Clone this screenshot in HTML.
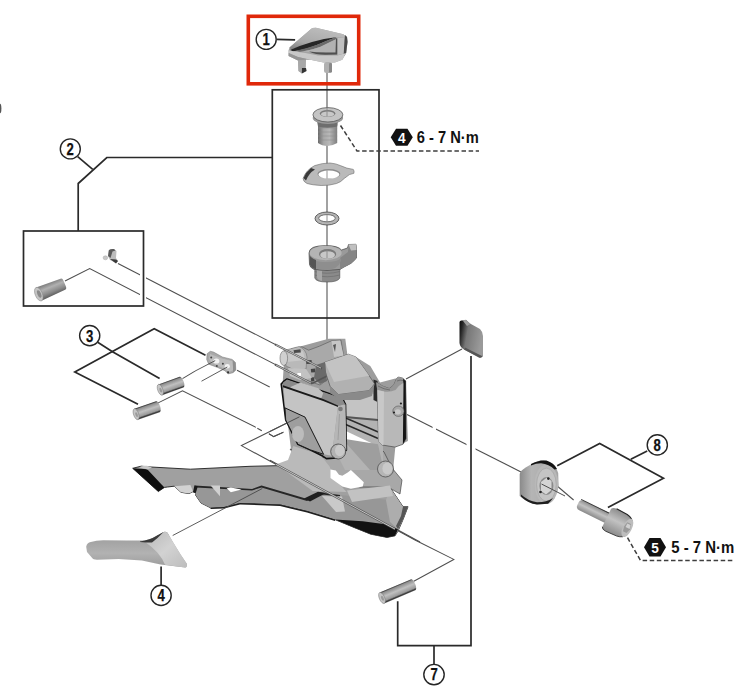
<!DOCTYPE html>
<html><head><meta charset="utf-8">
<style>
html,body{margin:0;padding:0;background:#fff;}
body{width:743px;height:700px;overflow:hidden;position:relative;}
svg{position:absolute;left:0;top:0;}
text{font-family:"Liberation Sans",sans-serif;font-weight:bold;}
</style></head><body>
<svg width="743" height="700" viewBox="0 0 743 700">
<defs>
  <linearGradient id="gPin" x1="0" y1="0" x2="0" y2="1">
    <stop offset="0" stop-color="#9a9a9a"/><stop offset="0.5" stop-color="#c8c8c8"/><stop offset="1" stop-color="#777"/>
  </linearGradient>
</defs>

<ellipse cx="0" cy="108.5" rx="1.4" ry="4.8" fill="#555"/>
<!-- ============ THIN LEADER LINES (behind) ============ -->
<g stroke="#4e4e4e" stroke-width="1.05" fill="none">
  <line x1="327" y1="70" x2="327" y2="360"/>
  <polyline points="65,281 89.7,268.6 313,384"/>
  <polyline points="118,263.5 286,350"/>
  <!-- plate/pin lines -->
  <line x1="182.5" y1="378.6" x2="195" y2="371.1"/>
  
  <line x1="237" y1="370.3" x2="269.7" y2="387"/>
  <polyline points="158.2,402.9 182.5,390.8 255.9,427.4"/>
  <line x1="257.3" y1="428.2" x2="261.8" y2="430.8"/>
  <polyline points="268.9,433.8 273.7,436.6 283.4,432.2"/>
  <polyline points="299.5,416.8 241.4,445.6 415,540 453.8,559.4 413.8,581.2"/>
  <line x1="462" y1="349" x2="406" y2="379"/>
  <line x1="402" y1="412" x2="521" y2="472"/>
  <line x1="556" y1="485" x2="573.6" y2="500"/>
  <line x1="270" y1="460.3" x2="420" y2="542"/>
</g>


<!-- ============ PART 1 (cap) ============ -->
<g id="p1">
  <defs>
    <linearGradient id="gCapTop" x1="0" y1="1" x2="0.6" y2="0">
      <stop offset="0" stop-color="#7a7a7a"/><stop offset="0.35" stop-color="#a8a8a8"/><stop offset="1" stop-color="#bdbdbd"/>
    </linearGradient>
  </defs>
  <path d="M288.6,50.3 L289.5,47.4 L312.2,28.1 L315.9,27.7 L343.3,34.3 L347,37.1 L347.5,41.8 L346.1,53.1 L342.3,59.7 L334.8,62.5 L323.5,62.5 L310.3,59.7 L306,59.5 L305.6,67.2 L306.5,71 L301.8,73.4 L298.5,71 L298,60.6 L288.6,55.9 Z" fill="#a3a3a3"/>
  <path d="M289.5,47.4 L312.2,28.1 L315.9,27.7 L343.3,34.3 L347,37.1 L336,37.5 L324,39.5 L305,45 L291,49.5 Z" fill="url(#gCapTop)"/>
  <path d="M290,50 Q300,45.5 312,42 Q324,38.5 336,37.3 Q326,41 318,44.5 Q306,49.5 293,51.2 Z" fill="#262626"/>
  <path d="M296,50.8 Q308,48 318,44.5 Q326,41 336,37.3 L336.5,39 Q328,43 320,47 Q310,50.5 300,51.8 Z" fill="#6a6a6a"/>
  <path d="M303,51.5 Q314,49 320,47 Q328,43 336.5,39 L336.5,52.5 L326,52.8 Q314,52.5 303,51.5 Z" fill="#b2b2b2"/>
  <path d="M309,51.5 Q316,55 326,54.8 L337.5,54.5 L337.5,38.5 L336,38.5 L335.5,52.5 L326,52.6 Q316,52.6 309,51.5 Z" fill="#505050"/>
  <path d="M337.5,38 L347,37.1 L347.5,41.8 L346.1,53.1 L337.5,55 Z" fill="#c0c0c0"/>
  <path d="M345,35 L347,37.1 L347.5,41.8 L346.1,53.1 L343.5,57 L344.5,40 Z" fill="#4a4a4a"/>
  <path d="M288.6,50.3 L293,51.2 Q305,52.8 318,55.5 L337.5,55.5 L346.1,53.1 L342.3,59.7 L334.8,62.5 L323.5,62.5 L310.3,59.7 L298,57 L288.6,53 Z" fill="#c8c8c8"/>
  <path d="M288.6,53 L298,57 L310.3,59.7 L306,59.5 L298,60.6 L288.6,55.9 Z" fill="#959595"/>
  <path d="M298,60.6 L305.6,60 L305.6,67.2 L302,68 L302,73 L298.5,71 Z" fill="#a8a8a8"/>
  <path d="M302,68 L306,68 L306.5,71 L301.8,73.4 Z" fill="#333"/>
  <rect x="324" y="62" width="8" height="11" rx="2.5" fill="#b0b0b0"/>
  <rect x="329" y="63" width="3" height="9.5" rx="1.2" fill="#888"/>
</g>

<!-- ============ TOP STACK (box) ============ -->
<g id="stack">
  <!-- bolt body -->
  <defs>
    <linearGradient id="gBB" x1="0" y1="0" x2="1" y2="0">
      <stop offset="0" stop-color="#6a6a6a"/><stop offset="0.3" stop-color="#a8a8a8"/><stop offset="0.6" stop-color="#b8b8b8"/><stop offset="1" stop-color="#7e7e7e"/>
    </linearGradient>
  </defs>
  <path d="M318,124 L337.2,124 L337.2,143 Q332,146 327.6,146 Q322,146 318,143 Z" fill="url(#gBB)"/>
  <path d="M318,128 L337.2,128 M318,132 L337.2,132 M318,136 L337.2,136 M318,140 L337.2,140" stroke="#8a8a8a" stroke-width="0.5" fill="none"/>
  <path d="M317,121 L338,121 L337.2,126.5 Q327.6,129 318,126.5 Z" fill="#6e6e6e"/>
  <ellipse cx="327.9" cy="118" rx="15.2" ry="6" fill="#9a9a9a"/>
  <ellipse cx="327.9" cy="114.8" rx="15" ry="7.2" fill="#c4c4c4" stroke="#4a4a4a" stroke-width="0.7"/>
  <ellipse cx="327.6" cy="113.5" rx="7.8" ry="3.5" fill="#7a7a7a"/>
  <ellipse cx="327.6" cy="114.2" rx="6.5" ry="2.6" fill="#c8c8c8"/>
  <line x1="327" y1="108" x2="327" y2="116.5" stroke="#888" stroke-width="0.9"/>
  <!-- washer with tab -->
  <path d="M303.1,178.4 Q306,170 314.7,165.6 Q322,163 330.1,163 Q336,163.5 340.4,165.6 L346.8,168.1 L353.3,169.4 Q354.5,171 353.9,173.3 L349.4,174.6 L344.3,178.4 Q341,182 336.6,183.5 Q329,185.8 321.1,185.5 Q312,185 307,183.5 Q303,181.5 303.1,178.4 Z" fill="#bababa" stroke="#6a6a6a" stroke-width="0.6"/>
  <path d="M303.5,178 Q306,172 311,168 L315,169.5 Q309,173 306,180.5 Z" fill="#3a3a3a"/>
  <ellipse cx="328.9" cy="173.9" rx="11.5" ry="4.8" fill="#8c8c8c"/>
  <ellipse cx="328.9" cy="174.6" rx="10.5" ry="4" fill="#fff"/>
  <line x1="327" y1="170.6" x2="327" y2="178.6" stroke="#888" stroke-width="0.9"/>
  <!-- o-ring -->
  <ellipse cx="327" cy="218.5" rx="12" ry="6.5" fill="#b5b5b5" stroke="#444" stroke-width="0.8"/>
  <ellipse cx="327" cy="218.2" rx="8.3" ry="3.6" fill="#fff" stroke="#555" stroke-width="0.8"/>
  <line x1="327" y1="214.6" x2="327" y2="221.8" stroke="#888" stroke-width="0.9"/>
  <!-- nut with tab -->
  <path d="M314.8,268 L314.8,278 Q316,282 327,282 Q338,282 339.8,278 L339.8,268 Z" fill="#8a8a8a" stroke="#4a4a4a" stroke-width="0.6"/>
  <path d="M314.8,271.5 Q327,275 339.8,271.5 M314.8,275 Q327,278.5 339.8,275" stroke="#6a6a6a" stroke-width="0.6" fill="none"/>
  <path d="M317,270 L322,271 L322,281 Q317,280 317,277 Z" fill="#a8a8a8"/>
  <path d="M309,253 Q309,245.6 325.7,245.6 Q338,245.6 341.5,250 L347.5,248 L348.5,244.5 L356,244.3 L356.5,250 L356.5,258 Q352,264 344,267 L340,269.4 Q327,271.5 314,269.4 Q309.5,267.5 309.5,264 Z" fill="#9a9a9a" stroke="#444" stroke-width="0.7"/>
  <path d="M340,258 L348,252 L348.5,244.5 L356,244.3 L356.5,250 L356.5,258 Q352,264 344,267 L340,269.4 Z" fill="#858585"/>
  <path d="M348.5,244.5 L356,244.3 L356.5,250 L351,250.5 Z" fill="#c0c0c0"/>
  <path d="M309.5,254 Q310,262 325.7,262 Q338,262 341,258 L341,261 Q338,269.5 326,270 Q312,269.5 309.5,264 Z" fill="#8e8e8e"/>
  <path d="M309.5,255 L309.5,264 Q311,268 316,269.5 L316,260 Q311,258 309.5,255 Z" fill="#555"/>
  <ellipse cx="325.7" cy="253" rx="16" ry="7.2" fill="#b4b4b4"/>
  <ellipse cx="327.6" cy="254" rx="8.6" ry="5" fill="#7a7a7a"/>
  <ellipse cx="327.6" cy="255" rx="7.4" ry="3.8" fill="#c8c8c8"/>
  <line x1="327" y1="249.5" x2="327" y2="258" stroke="#888" stroke-width="0.9"/>
</g>

<!-- ============ BOX 2 parts ============ -->
<g id="box2">
  <defs>
    <linearGradient id="gCyl" x1="0" y1="0" x2="0" y2="1">
      <stop offset="0" stop-color="#7a7a7a"/><stop offset="0.35" stop-color="#b0b0b0"/><stop offset="0.7" stop-color="#8a8a8a"/><stop offset="1" stop-color="#5a5a5a"/>
    </linearGradient>
  </defs>
  <g transform="translate(50.8,289.2) rotate(-22.4)">
    <path d="M-13,-7.2 L13,-6 Q15,-6 15,-3 L15,3 Q15,6 13,6 L-13,7.2 Z" fill="url(#gCyl)"/>
    <ellipse cx="-13" cy="0" rx="3.6" ry="7.2" fill="#c4c4c4" stroke="#888" stroke-width="0.5"/>
    <ellipse cx="-12.5" cy="0" rx="1.8" ry="4" fill="#8a8a8a"/>
  </g>
  <path d="M108.5,250.5 Q110,248.5 114,249 L116.5,251 L116,258 L118,261 L116,263 L110,260 L108,256 Z" fill="#bcbcbc"/>
  <path d="M109,250 Q111,248.5 114,249 L115.5,250.5 L112.5,251.5 L110.5,258 L108,256 Z" fill="#5a5a5a"/>
  <path d="M110,259 L116,259.5 L118,261 L116,263.5 Z" fill="#3a3a3a"/>
  <ellipse cx="105.4" cy="257.8" rx="2.3" ry="2" fill="#c8c8c8" stroke="#999" stroke-width="0.4"/>
</g>
<!-- gaps at box border -->
<rect x="140" y="268" width="6" height="34" fill="#fff"/>
<!-- ============ 3 parts ============ -->
<g id="p3">
  <defs><linearGradient id="gPinB" x1="0" y1="0" x2="0" y2="1">
    <stop offset="0" stop-color="#2e2e2e"/><stop offset="0.12" stop-color="#8e8e8e"/><stop offset="0.45" stop-color="#c0c0c0"/><stop offset="0.8" stop-color="#9a9a9a"/><stop offset="0.92" stop-color="#3a3a3a"/><stop offset="1" stop-color="#555"/>
  </linearGradient></defs>
  <g transform="translate(170.9,386) rotate(-19.5)">
    <path d="M-11.25,-5.7 L11.25,-5.7 A2.28,5.7 0 0 1 11.25,5.7 L-11.25,5.7 Z" fill="url(#gPinB)"/>
    <ellipse cx="-11.25" cy="0" rx="2.56" ry="5.7" fill="#c6c6c6" stroke="#777" stroke-width="0.5"/>
    <ellipse cx="-10.95" cy="0.5" rx="1.14" ry="2.56" fill="#9a9a9a"/>
  </g>
  <g transform="translate(147,410.5) rotate(-19)">
    <path d="M-11.5,-5.7 L11.5,-5.7 A2.28,5.7 0 0 1 11.5,5.7 L-11.5,5.7 Z" fill="url(#gPinB)"/>
    <ellipse cx="-11.5" cy="0" rx="2.56" ry="5.7" fill="#c6c6c6" stroke="#777" stroke-width="0.5"/>
    <ellipse cx="-11.20" cy="0.5" rx="1.14" ry="2.56" fill="#9a9a9a"/>
  </g>
  <!-- plate -->
  <path d="M207.1,353.7 L210.3,351.3 L213.6,352.1 L222.5,357 L232.2,359.4 L235.4,362.6 L235.8,369.9 L233,372.7 L228.1,373.9 L224.9,370.7 L217.6,367.5 L208.7,364.2 L206.7,359.4 Z" fill="#a9a9a9" stroke="#777" stroke-width="0.5"/>
  <path d="M210,354 L222,358.5 L232,361 L233.5,370 L229,372 L224,368.5 L212,363 L209,359 Z" fill="#bdbdbd"/>
  <path d="M232.2,359.4 L235.4,362.6 L235.8,369.9 L233,372.7 L233,361 Z" fill="#8e8e8e"/>
  <ellipse cx="216.4" cy="361" rx="3" ry="2.6" fill="#f2f2f2"/>
  <ellipse cx="227.3" cy="366.3" rx="2.6" ry="2.2" fill="#f2f2f2"/>
  <circle cx="211.2" cy="357.4" r="1" fill="#444"/>
  <circle cx="216.8" cy="366" r="1" fill="#444"/>
  <circle cx="222.9" cy="363.8" r="1" fill="#444"/>
  <circle cx="228.1" cy="372.3" r="1.1" fill="#333"/>
  <line x1="195" y1="371.1" x2="215.2" y2="360.6" stroke="#4a4a4a" stroke-width="0.9"/>
  <line x1="201.5" y1="381.2" x2="227.3" y2="367" stroke="#4a4a4a" stroke-width="0.9"/>
</g>

<!-- ============ 7 pin ============ -->
<g transform="translate(397.5,591.4) rotate(-23)">
    <path d="M-16.85,-5.9 L16.85,-5.9 A2.36,5.9 0 0 1 16.85,5.9 L-16.85,5.9 Z" fill="url(#gPinB)"/>
    <ellipse cx="-16.85" cy="0" rx="2.66" ry="5.9" fill="#c6c6c6" stroke="#777" stroke-width="0.5"/>
    <ellipse cx="-16.55" cy="0.5" rx="1.18" ry="2.66" fill="#9a9a9a"/>
  </g>

<!-- ============ pad ============ -->
<defs>
  <linearGradient id="gPad" x1="0" y1="0" x2="1" y2="0.3">
    <stop offset="0" stop-color="#080808"/><stop offset="0.15" stop-color="#262626"/><stop offset="0.4" stop-color="#777"/><stop offset="1" stop-color="#9a9a9a"/>
  </linearGradient>
</defs>
<path d="M459.5,322 Q460,320 462,320.5 L466,320 L470,323.5 L480,329 Q483,332 483,336 L483,355 Q482.5,358.5 479,357.5 L464,349.5 Q460,347 459.5,343 Z" fill="url(#gPad)"/>
<path d="M462.5,320.2 L466,319.8 L470.5,324 L467,326 Z" fill="#9e9e9e"/>
<path d="M464,349.5 L479,357.5 Q482.5,358.5 483,355 L482,356 L465,347.5 Z" fill="#555"/>

<!-- ============ spacer 8 ============ -->
<g id="spacer">
  <defs>
    <linearGradient id="gSp" x1="0" y1="0" x2="1" y2="0">
      <stop offset="0" stop-color="#8a8a8a"/><stop offset="0.3" stop-color="#b5b5b5"/><stop offset="1" stop-color="#a5a5a5"/>
    </linearGradient>
    <linearGradient id="gBolt" x1="0" y1="0" x2="0" y2="1">
      <stop offset="0" stop-color="#8c8c8c"/><stop offset="0.45" stop-color="#c2c2c2"/><stop offset="1" stop-color="#8a8a8a"/>
    </linearGradient>
  </defs>
  <path d="M519.7,474 Q521,468 541,460.1 L546.4,460.9 Q556,464 558.2,473.1 L558.6,486.4 Q557,496 548,503.7 L537,504.5 Q526,502 519.7,495.9 Z" fill="url(#gSp)"/>
  <ellipse cx="546.4" cy="484.2" rx="11.8" ry="19.8" fill="#b8b8b8"/>
  <ellipse cx="546.4" cy="484.6" rx="9.8" ry="16.5" fill="#c4c4c4" stroke="#a0a0a0" stroke-width="0.6"/>
  <path d="M531,464 Q539,459.5 546.4,460.6 Q554,463 557,469 L554.5,469.5 Q549,464 541,463.2 Q536,463.2 531,465.5 Z" fill="#141414"/>
  <path d="M521,496.5 Q528,503.5 537,504.6 L548,503.8 Q551,501 553,498 Q546,502.5 537,502.3 Q528,501 521,494.5 Z" fill="#1e1e1e"/>
  <ellipse cx="546.4" cy="486" rx="7" ry="9" fill="#8a8a8a"/>
  <path d="M541,482 L547,477.5 L551.5,481 L551.5,490 L546,494.5 L541,491 Z" fill="#d4d4d4"/>
  <circle cx="548.3" cy="478.6" r="1.3" fill="#222"/>
  <circle cx="540.5" cy="492" r="1.3" fill="#222"/>
  <line x1="541.5" y1="484" x2="565" y2="496" stroke="#4e4e4e" stroke-width="1"/>
</g>
<!-- bolt 8 -->
<g transform="translate(604,516.5) rotate(26)">
  <rect x="-29" y="-5.3" width="35" height="10.6" rx="4" fill="url(#gBolt)"/>
  <path d="M-28,-5.3 L4,-5.3" stroke="#333" stroke-width="0.9"/>
  <path d="M3,-10 Q4,-12.5 8,-12.5 L20,-12 Q27,-11 28.5,-6 L28.5,6 Q27,11 20,12 L8,12.5 Q4,12.5 3,10 Z" fill="url(#gBolt)"/>
  <path d="M8,-12.5 L20,-12 Q27,-11 28.5,-6" stroke="#222" stroke-width="1" fill="none"/>
  <path d="M3,10 Q4,12.5 8,12.5 L20,12 Q27,11 28.5,6" stroke="#333" stroke-width="0.8" fill="none"/>
  <ellipse cx="26" cy="0" rx="4.5" ry="10" fill="#bdbdbd"/>
  <path d="M23.5,-5 L27.5,-5 L29,0 L27.5,5 L23.5,5 L22.5,0 Z" fill="#9a9a9a"/>
  <path d="M24,-4 L27.5,-4 L28.5,0 L24,0 Z" fill="#d0d0d0"/>
</g>

<!-- ============ lever 4 ============ -->
<defs>
  <linearGradient id="gLev" x1="0" y1="0" x2="0" y2="1">
    <stop offset="0" stop-color="#6a6a6a"/><stop offset="0.18" stop-color="#a0a0a0"/><stop offset="0.6" stop-color="#b2b2b2"/><stop offset="1" stop-color="#9a9a9a"/>
  </linearGradient>
  <linearGradient id="gHook" x1="0" y1="0" x2="1" y2="1">
    <stop offset="0" stop-color="#b8b8b8"/><stop offset="0.5" stop-color="#d2d2d2"/><stop offset="1" stop-color="#bdbdbd"/>
  </linearGradient>
</defs>
<path d="M86.2,546.7 Q87,542.5 90.8,542 Q96,540.5 103.2,540.2 L126.4,540.5 L145,540.5 Q150,539.5 154.3,537.4 L163.6,532 Q166,531.5 167.5,532.7 L172.9,542 L180.6,554.4 L186.8,563.7 Q187,567.5 185.3,567.6 L179,566.8 L160.5,564.5 L141.9,560.6 L118.7,559 L97,559.8 Q93,559.5 92.4,558.3 L87,552 Z" fill="url(#gLev)"/>
<path d="M145,540.5 Q150,539.5 154.3,537.4 L163.6,532 Q166,531.5 167.5,532.7 L172.9,542 L180.6,554.4 L186.8,563.7 Q187,567.5 185.3,567.6 L179,566.8 L165,564.8 Q160,552 145,542 Z" fill="url(#gHook)"/>
<path d="M140,541.5 Q150,540 157,535.5 L163.6,532 Q158,538 152,542.5 Q146,542.5 140,542 Z" fill="#3a3a3a"/>
<!-- ============ DERAILLEUR ============ -->
<g id="der" stroke-linejoin="round">
  <path d="M282.7,382.6 L284,362 L291,349 L328.6,338.8 L345.3,338.8 L347.4,355 L356,357 L370.3,365.9 L380,382.6 L395.3,378.4 L405.8,380.5 L407.9,441 L395.3,447.3 L393.3,468.1 L400,490 L300,470 L291,449.3 Z" fill="#9d9d9d"/>
  <!-- cage outer plate -->
  <path d="M132.7,468.3 L141.2,466.2 L151,467 L190.4,469.2 L250,466.3 L288.5,465.4 L300,462 L330,470 L390,487.3 L403,506.7 L408,506.7 L403,519.6 L398,531 L395,535.8 L387,537.4 L370.8,534.2 L354.6,527.7 L335,519.6 L307.3,511.1 L280.4,504.4 L240,503 L224,507.1 L210.6,507.8 L201,503 L195.5,495 L195.8,493 L193,491.6 L189,493.6 L181,492.3 L174.2,486.2 L167.5,487 L164.4,487.4 L158.3,491.5 Z" fill="#a0a0a0" stroke="#1e1e1e" stroke-width="0.9"/>
  <path d="M194.4,485.6 L252.1,488.9 L261.5,485.6 L307.3,499 L318,492.3 L340,495 L388,500 L403,506.7 L403,519.6 L398,531 L395,535.8 L387,537.4 L370.8,534.2 L354.6,527.7 L335,519.6 L307.3,511.1 L280.4,504.4 L240,503 L224,507.1 L210.6,507.8 L201,503 L195.5,495 Z" fill="#979797"/>
  <path d="M194.4,485.6 L252.1,488.9 L261.5,485.6 L307.3,499 L318,492.3 L340,495 L340,496.5 L318,494 L307,501 L261.5,487.5 L252,490.5 L196,487.5 Z" fill="#262626"/>
  <path d="M304,498.5 L318,491.8 L326,493 L310,501.5 Z" fill="#1e1e1e"/>
  <path d="M322,496 L342,496.5 L345,511.5 L336,512 Z" fill="#c9c9c9"/>
  <path d="M132.7,468.3 L147.2,469.3 L164.4,487.4 L158.3,491.5 Z" fill="#0e0e0e"/>
  <path d="M139,467.2 Q142,465.3 147,465.8 L152,467.5 L147.5,469.5 Z" fill="#c8c8c8"/>
  <path d="M174.2,486.2 L190.4,484.9 L193,491.6 L189,493.6 L181,492.3 Z" fill="#d2d2d2"/>
  <path d="M194.4,485.6 L197.8,486.2 L195.8,493 L193,492.3 Z" fill="#1a1a1a"/>
  <path d="M210.6,485.6 L220,485.6 L220,496.3 Z" fill="#d0d0d0"/>
  <path d="M226.7,488.3 L230.8,487.6 L241.5,489.6 L230.8,492.3 Z" fill="#fff"/>
  <path d="M335,519.6 L362.7,521.2 L387,524.5 L398,529.3 L395,535.8 L387,537.4 L370.8,534.2 L354.6,527.7 Z" fill="#111"/>
  <path d="M240,503 L280.4,504.4 L307.3,511.1 L335,519.6 L335,521 L307,512.6 L280,506 L240,504.5 L224,508.5 L210.6,509 L210.6,507.8 L224,507.1 Z" fill="#1e1e1e"/>
  <path d="M390,487.3 L403,506.7 L408,506.7 L403,519.6 L398,529.3 L390,522 L386,500 Z" fill="#adadad"/>
  <path d="M403,506.7 L408,506.7 L403,519.6 L398,529.3 L396,526 L401,516 Z" fill="#555"/>
<!-- body lower arms (behind plate) -->
  <path d="M290,449 L300,462 L322,470 L336,480 L360,487 L388,487 L400,494 L402,480 L392,468 L384,452 L378,446 L345,440 L337,452 L322,458 Z" fill="#a8a8a8" stroke="#333" stroke-width="0.6"/>
  <path d="M293.3,446 L320,454.5 L329.6,466.6 L334.5,478.8 L346.6,492 L312.7,490.9 L276.3,464.2 L288,460 Z" fill="#bababa"/>
  <path d="M330.5,469.4 L335.8,470.5 L339,474.8 L342.3,475.8 L347.7,472.6 L350.9,469.9 L363.8,482.3 L362.7,486.6 L350.9,488.8 L342.3,486.6 L330.5,478 Z" fill="#fff"/>
  <path d="M347,490.5 L390,485.5 L393,496 L352,502 Z" fill="#c2c2c2"/>
  <!-- links between plate and clamp -->
  <path d="M335,392 L378,389 L383,400 L383,470 L345,470 L335,450 Z" fill="#b3b3b3"/>
  <path d="M343.7,429.9 L371.2,443 L371.2,451.6 L341.4,437.9 Z" fill="#fff"/>
  <path d="M341.4,437.9 L371.2,451.6 L371.2,453.2 L341.4,439.5 Z" fill="#222"/>
  <path d="M343.7,416.2 L377.9,431 L377.9,432.8 L343.7,418 Z" fill="#2a2a2a"/>
  <path d="M344.9,423.2 L377.9,437.5 L377.9,439.3 L344.9,425 Z" fill="#2a2a2a"/>
  <path d="M345,399 L378,393 L378,419 L345,416 Z" fill="#c4c4c4"/>
  <path d="M345,416 L378,419 L378,421 L345,418 Z" fill="#555"/>
  <path d="M342,438.6 L378,444.3 L383.6,470 L370,470 Z" fill="#9e9e9e"/>
  <!-- bolts lower -->
  <circle cx="385.5" cy="469" r="8" fill="#b5b5b5" stroke="#444" stroke-width="0.7"/>
  <ellipse cx="387.4" cy="468.6" rx="5" ry="6" fill="#c9c9c9"/>

  <!-- right clamp -->
  <path d="M373.5,379.5 L377.5,381 L377.5,402 L373.5,400 Z" fill="#2a2a2a"/>
  <path d="M376.2,382.3 Q383,387 389.2,388.5 Q392,387.5 394,384.4 L396.8,378.2 Q398,377 398.8,377.1 L403,378.2 L405.7,381 L406,438.6 L402.9,444.3 L395,447.1 L382.1,445 L378.6,441.4 L377.1,389.3 Z" fill="#b8b8b8" stroke="#3a3a3a" stroke-width="0.6"/>
  <path d="M376.2,382.3 Q383,387 389.2,388.5 Q392,387.5 394,384.4 L396.8,378.2 Q398,377 398.8,377.1 L403,378.2 L404.5,382 Q399,385 395.5,390 Q390,392.5 384,391.5 L377.3,390 Z" fill="#969696"/>
  <path d="M378,386 Q384,389.5 390,390 M397,381 Q400,379.5 403,380.5" stroke="#555" stroke-width="0.6" fill="none"/>
  <path d="M377.3,390 L384,391.5 L383.5,445 L382.1,445 L378.6,441.4 Z" fill="#c8c8c8"/>
  <path d="M403,378.8 L405.7,381 L406,438.6 L402.9,444.3 L403.5,384 Z" fill="#141414"/>
  <ellipse cx="398.4" cy="411.2" rx="5.6" ry="5.2" fill="#a8a8a8" stroke="#555" stroke-width="0.6"/>
  <ellipse cx="397.8" cy="411.8" rx="3" ry="2.6" fill="#c8c8c8"/>
  <circle cx="394" cy="412.5" r="1.1" fill="#222"/>
  <circle cx="400.9" cy="403.5" r="1.1" fill="#222"/>

  <!-- left plate -->
  <path d="M281.2,384 L283.5,381.5 L287,379 L342.1,398 L345.5,404.3 L346.4,450 L337,458 L326.4,458.6 L322,455.7 L310.7,450 L297.9,444.3 L285.7,420 Z" fill="#9a9a9a" stroke="#111" stroke-width="1.6"/>
  <path d="M283.6,386.5 L323.2,400 L338,406 L332,455.7 L323.6,454.3 L305,417.1 L285,407.9 Z" fill="#c4c4c4"/>
  <path d="M285,407.9 L305,417.1 L323.6,454.3 L310.7,450 L297.9,444.3 L285.7,420 Z" fill="#9e9e9e" stroke="#1a1a1a" stroke-width="1"/>
  <ellipse cx="298" cy="434" rx="6" ry="8" fill="#bcbcbc"/>
  <path d="M338,406 L345.5,404.3 L346.4,450 L332,455.7 Z" fill="#b6b6b6"/>
  <path d="M283.2,382.5 L287,379.5 L342.1,398.5 L345,404 L338,406 L323.2,399.5 L283,385.7 Z" fill="#8a8a8a"/>
  <path d="M290,387.3 L300.6,382.5 L318.4,388.2 L323.2,393 L321.6,397.8 L310.3,398.7 L296.6,391.4 Z" fill="#c0c0c0"/>
  <path d="M283,385.2 L323.2,399 L338,405.5 L338,407 L323.2,401 L283,387.2 Z" fill="#1a1a1a"/>
  <circle cx="340.5" cy="409" r="2.3" fill="#7a7a7a"/>
  <line x1="339.5" y1="414" x2="338" y2="440" stroke="#999" stroke-width="0.8"/>
  <circle cx="338.2" cy="451.5" r="7.5" fill="#b2b2b2" stroke="#333" stroke-width="0.7"/>
  <ellipse cx="339.8" cy="450.5" rx="4.8" ry="5.8" fill="#c9c9c9"/>

  <!-- head -->
  <path d="M291.2,348.8 L301.9,346.8 L308.6,350.2 L319.4,346.2 L331.5,340.8 L341,340.1 L343.6,355.6 L340,370 L320,385 L300,378 L290,372 Z" fill="#a9a9a9" stroke="#555" stroke-width="0.6"/>
  <path d="M324.8,362.3 L348.4,354.2 L355.8,356.9 L369.2,375.8 L374.6,383.8 L369.2,390.6 L338.3,394.6 L330.2,386.5 L324.8,370.4 Z" fill="#b1b1b1" stroke="#444" stroke-width="0.6"/>
  <path d="M324.8,362.3 L348.4,354.2 L355.8,356.9 L369.2,375.8 L334,382 Z" fill="#c3c3c3"/>
  <path d="M330,386 L338,394.6 L369.2,390.6 L374.6,383.8 L372,396 L360,400 L340,400 L330,393 Z" fill="#8a8a8a"/>
  <path d="M284,350.5 L299,346.5 Q306,349 307,357 L306,369 L297,371 L286,366 Z" fill="#b9b9b9" stroke="#666" stroke-width="0.5"/>
  <path d="M286,354 L303,351 L305,360 L287,362 Z" fill="#c8c8c8"/>
  <ellipse cx="283.8" cy="358.2" rx="3.8" ry="7.3" fill="#d0d0d0" stroke="#6a6a6a" stroke-width="0.6"/>
  <path d="M293.5,350.2 L300.5,349.2 L300.8,352.5 L294.2,353 Z" fill="#4a4a4a"/>
  <path d="M306,360.5 L311.5,360 L312,363.8 L306.5,364 Z" fill="#484848"/>
  <path d="M310.8,369 L315,368.6 L315.4,372.2 L311.2,372.4 Z" fill="#444"/>
  <path d="M310.8,377.5 L314.2,377.2 L314.5,381.2 L311.2,381.4 Z" fill="#444"/>
  <path d="M316,365 L325,362 L327,381 L320,384 L314,378 Z" fill="#6a6a6a"/>
  <path d="M288,368 L306,369 L312,378 L300,380 L290,376 Z" fill="#c2c2c2"/>
  <path d="M297.4,373 L301,373 L301,376.3 L297.4,376.3 Z" fill="#fff"/>
  <path d="M331.5,341 L340,340.4 L343.6,355.6 L334,357 Z" fill="#c6c6c6"/>
  <path d="M333,345 L336,344 L335,352 Z" fill="#555"/>
</g>


<!-- lines passing in front of derailleur -->
<g fill="none">
  <line x1="270" y1="431.4" x2="299.5" y2="416.8" stroke="#4e4e4e" stroke-width="1"/>
  <polyline points="268.9,433.8 273.7,436.6 283.4,432.2" stroke="#4e4e4e" stroke-width="1"/>
  <line x1="172.7" y1="535.5" x2="262.3" y2="488.5" stroke="#4a4a4a" stroke-width="0.9"/>
  <line x1="276" y1="464.4" x2="395" y2="529.1" stroke="#555" stroke-width="2.2"/>
  <line x1="276" y1="464.4" x2="395" y2="529.1" stroke="#e2e2e2" stroke-width="0.8"/>
  <line x1="275" y1="344.4" x2="322" y2="368.6" stroke="#555" stroke-width="2"/>
  <line x1="276" y1="344.9" x2="321" y2="368.1" stroke="#e8e8e8" stroke-width="0.7"/>
  <line x1="275" y1="364.5" x2="312" y2="383.6" stroke="#555" stroke-width="2"/>
  <line x1="276" y1="365" x2="311" y2="383.1" stroke="#e8e8e8" stroke-width="0.7"/>
  <line x1="312" y1="383.5" x2="326.6" y2="376.3" stroke="#555" stroke-width="1.6"/>
</g>

<rect x="466.5" y="441" width="9" height="11" fill="#fff"/>
<rect x="432.6" y="424" width="3.4" height="8" fill="#fff"/>
<!-- ============ THICK BRACKETS / BOXES ============ -->
<g stroke="#2a2a2a" stroke-width="1.7" fill="none">
  <rect x="248.3" y="16.3" width="110.4" height="67.5" stroke="#e0280a" stroke-width="3.6"/>
  <rect x="272.3" y="89.8" width="106.7" height="228.2"/>
  <rect x="23.5" y="231" width="120" height="75"/>
  <polyline points="78.2,231 78.2,183.5 106.8,157.5 272.5,157.5"/>
  <line x1="77.7" y1="156.7" x2="92.7" y2="169.3"/>
  <!-- 3 -->
  <polyline points="205.5,355.3 154.2,328.8 74.8,371.9 138,404.2"/>
  <polyline points="97.7,342.3 112.5,351.7 159.6,378.6"/>
  <!-- 8 -->
  <polyline points="557.2,465.8 599.7,443.5 663.5,478.2 607.9,507.6"/>
  <line x1="647.2" y1="451" x2="630.8" y2="459.2"/>
  <!-- 4 -->
  <line x1="161.1" y1="566.5" x2="161.1" y2="585"/>
  <!-- 7 -->
  <polyline points="397.7,601.3 397.7,645.7 471,645.7 471,356"/>
  <line x1="434" y1="645.7" x2="434" y2="664.5"/>
  <!-- 1 leader -->
  <line x1="276.7" y1="39.4" x2="295.1" y2="39.9"/>
</g>

<!-- callout circles -->
<g stroke="#262626" stroke-width="1.4" fill="#fff">
  <circle cx="266.2" cy="39.4" r="10"/>
  <circle cx="70.3" cy="148.9" r="10"/>
  <circle cx="89.7" cy="335.6" r="10.1"/>
  <circle cx="657.3" cy="444.9" r="10.1"/>
  <circle cx="161.1" cy="595.4" r="10.1"/>
  <circle cx="434" cy="674.6" r="10.2"/>
</g>
<g font-size="16.5" fill="#111" stroke="#111" stroke-width="0.25">
  <text x="262.6" y="45.2" textLength="7.3" lengthAdjust="spacingAndGlyphs">1</text>
  <text x="66.6" y="154.7" textLength="7.3" lengthAdjust="spacingAndGlyphs">2</text>
  <text x="85.9" y="342.2" textLength="7.3" lengthAdjust="spacingAndGlyphs">3</text>
  <text x="653.6" y="450.7" textLength="7.3" lengthAdjust="spacingAndGlyphs">8</text>
  <text x="157.4" y="601.2" textLength="7.3" lengthAdjust="spacingAndGlyphs">4</text>
  <text x="430.4" y="680.4" textLength="7.3" lengthAdjust="spacingAndGlyphs">7</text>
</g>

<!-- torque 4 -->
<g stroke="#3e3e3e" stroke-width="1.5" fill="none" stroke-dasharray="4.5,2.6">
  <polyline points="340.5,125.5 357,151 479,151"/>
  <polyline points="627.5,537.7 640.6,560.6 734,560.6"/>
</g>
<polygon points="390.7,137.2 396,128.7 407.5,128.7 412.8,137.2 407.5,145.7 396,145.7" fill="#111"/>
<text x="398" y="143.4" font-size="14.5" fill="#fff" textLength="7.6" lengthAdjust="spacingAndGlyphs">4</text>
<text x="416.8" y="142.9" font-size="15.8" fill="#111" textLength="62" lengthAdjust="spacingAndGlyphs">6 - 7 N·m</text>
<polygon points="644,547.2 649.5,537.9 660.5,537.9 666,547.2 660.5,556.5 649.5,556.5" fill="#111"/>
<text x="651.2" y="552.9" font-size="14.5" fill="#fff" textLength="7.6" lengthAdjust="spacingAndGlyphs">5</text>
<text x="671.3" y="552.9" font-size="16.4" fill="#111" textLength="63" lengthAdjust="spacingAndGlyphs">5 - 7 N·m</text>

</svg>
</body></html>
